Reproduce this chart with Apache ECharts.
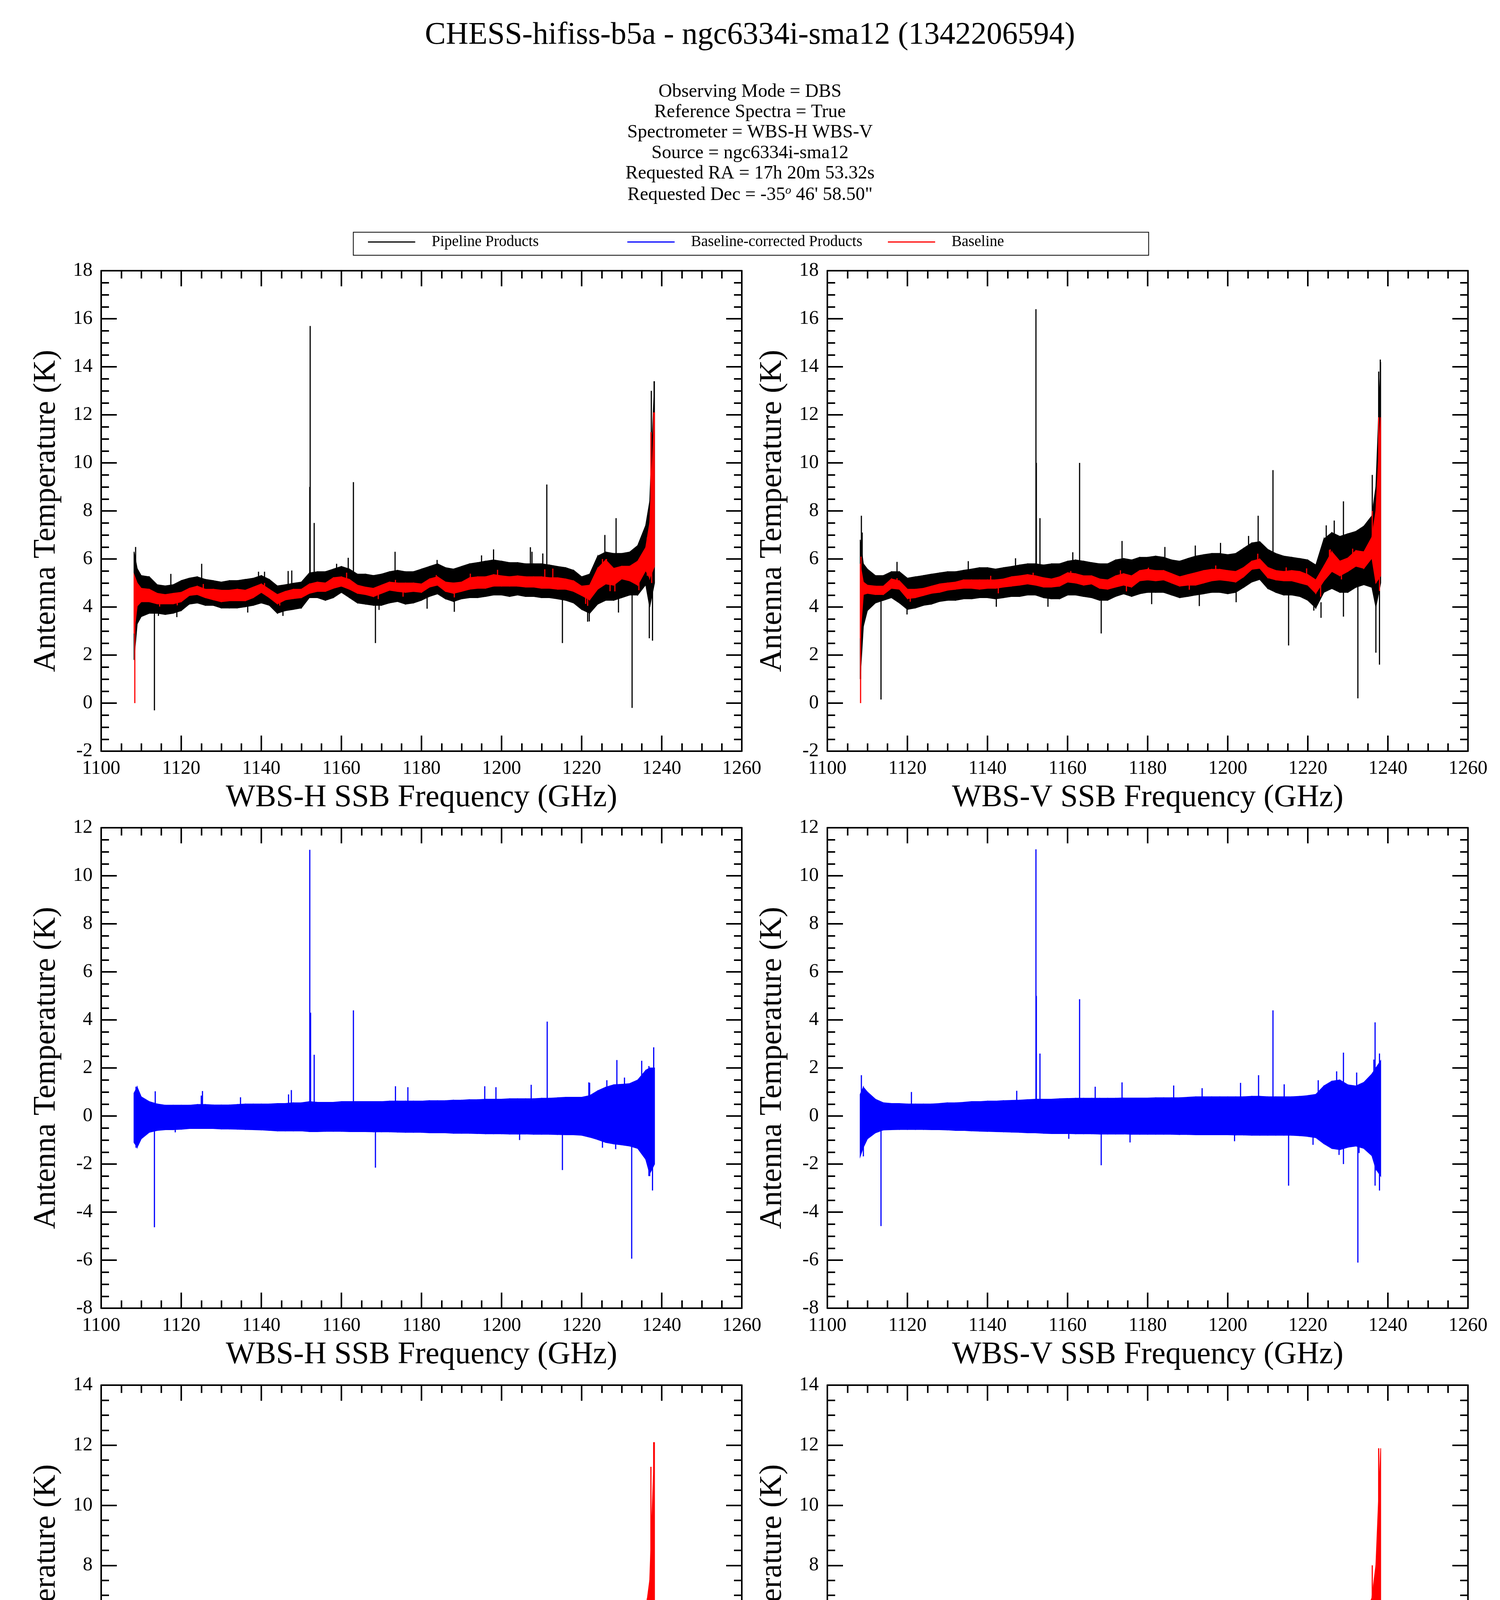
<!DOCTYPE html>
<html>
<head>
<meta charset="utf-8">
<script src="https://cdn.jsdelivr.net/npm/echarts@6/dist/echarts.min.js"></script>
<style>
html, body { margin: 0; padding: 0; background: #fff; }
#main { width: 3840px; height: 5017px; }
</style>
</head>
<body>
<div id="main"></div>
<script>
// frequency grid (GHz) used by all envelope arrays below
var freqGrid = [1108.2, 1109, 1110, 1112, 1114, 1116, 1118, 1120, 1122, 1124, 1126, 1128, 1130, 1132, 1134, 1136, 1138,
    1140, 1142, 1144, 1146, 1148, 1150, 1152, 1154, 1156, 1158, 1160, 1162, 1164, 1166, 1168, 1170, 1172, 1174, 1176,
    1178, 1180, 1182, 1184, 1186, 1188, 1190, 1192, 1194, 1196, 1198, 1200, 1202, 1204, 1206, 1208, 1210, 1212, 1214,
    1216, 1218, 1220, 1222, 1224, 1226, 1228, 1230, 1232, 1234, 1236, 1237, 1238.2];

// WBS-H : pipeline products (black), envelope low / high
var pipeLoH = [1.8, 3.3, 3.6, 3.74, 3.74, 3.69, 3.74, 3.85, 4.12, 4.17, 4.07, 4.07, 3.96, 3.96, 3.96, 4.01, 4.07,
    4.17, 4.07, 3.74, 3.85, 3.9, 3.96, 4.39, 4.39, 4.28, 4.39, 4.61, 4.39, 4.17, 4.12, 4.07, 4.07, 4.17, 4.23, 4.12,
    4.17, 4.28, 4.44, 4.55, 4.34, 4.23, 4.34, 4.39, 4.39, 4.44, 4.5, 4.5, 4.44, 4.5, 4.44, 4.44, 4.39, 4.39, 4.34,
    4.28, 4.17, 3.9, 3.74, 4.12, 4.28, 4.28, 4.39, 4.5, 4.5, 4.93, 4.0, 5.0];
var pipeHiH = [6.3, 5.6, 5.31, 5.26, 4.93, 4.88, 4.93, 5.1, 5.2, 5.26, 5.15, 5.1, 5.04, 5.1, 5.1, 5.15, 5.2,
    5.31, 5.15, 4.88, 4.93, 4.99, 5.04, 5.42, 5.47, 5.47, 5.58, 5.69, 5.58, 5.37, 5.37, 5.31, 5.37, 5.47, 5.53, 5.47,
    5.47, 5.58, 5.69, 5.8, 5.64, 5.58, 5.69, 5.8, 5.85, 5.91, 5.96, 5.91, 5.85, 5.85, 5.8, 5.8, 5.8, 5.75, 5.69,
    5.64, 5.53, 5.26, 5.37, 6.12, 6.29, 6.23, 6.23, 6.29, 6.56, 7.4, 8.4, 13.4];
// [frequency, from, to]: lines and the strongest noise spikes
var pipeSpikesH = [[1108.6, 4.5, 6.5], [1113.3, -0.3, 4.2], [1125.1, 4.8, 5.8], [1146.7, 4.6, 5.5], [1152.1, 4.5, 9.0],
    [1152.2, 4.8, 15.7], [1153.2, 4.8, 7.5], [1163.0, 4.8, 9.2], [1168.5, 2.5, 4.5], [1173.4, 5.0, 6.3],
    [1188.2, 3.8, 4.6], [1198.0, 5.2, 6.4], [1207.6, 5.2, 6.3], [1211.3, 5.0, 9.1], [1215.2, 2.5, 4.6],
    [1221.9, 3.4, 4.2], [1225.8, 5.0, 7.0], [1228.6, 5.2, 7.7], [1232.6, -0.2, 5.0], [1236.9, 2.7, 6.0],
    [1237.4, 5.0, 13.0], [1237.7, 2.6, 6.0], [1238.1, 5.0, 13.4],
    [1117.4, 4.7, 5.38], [1139.3, 5.0, 5.47], [1140.8, 5.0, 5.47], [1147.6, 4.8, 5.52], [1158.8, 5.3, 5.8],
    [1161.7, 5.4, 6.05], [1183.9, 5.5, 5.96], [1195.0, 5.6, 6.15], [1207.2, 5.5, 6.49], [1210.3, 5.5, 6.23],
    [1114.3, 3.63, 4.0], [1118.9, 3.58, 4.0], [1136.6, 3.77, 4.2], [1145.4, 3.63, 4.0], [1169.4, 3.88, 4.3],
    [1181.4, 3.93, 4.4], [1221.5, 3.39, 4.0], [1229.2, 3.77, 4.5]];

// WBS-H : baseline-corrected products (blue)
var corrLoH = [-1.1, -1.3, -0.95, -0.68, -0.6, -0.57, -0.57, -0.55, -0.52, -0.52, -0.52, -0.52, -0.54, -0.54, -0.55,
    -0.56, -0.57, -0.58, -0.6, -0.62, -0.62, -0.62, -0.62, -0.65, -0.65, -0.64, -0.64, -0.64, -0.65, -0.65, -0.65,
    -0.66, -0.66, -0.66, -0.67, -0.68, -0.68, -0.68, -0.7, -0.7, -0.7, -0.72, -0.72, -0.72, -0.73, -0.74, -0.74,
    -0.74, -0.75, -0.75, -0.75, -0.76, -0.76, -0.76, -0.77, -0.78, -0.78, -0.8, -0.88, -0.98, -1.1, -1.16, -1.2,
    -1.25, -1.35, -1.8, -2.4, -2.0];
var corrHiH = [0.95, 1.2, 0.8, 0.6, 0.5, 0.45, 0.45, 0.45, 0.45, 0.48, 0.48, 0.46, 0.46, 0.46, 0.48, 0.5, 0.5,
    0.5, 0.5, 0.52, 0.52, 0.55, 0.55, 0.6, 0.57, 0.57, 0.57, 0.6, 0.6, 0.6, 0.6, 0.6, 0.6, 0.62, 0.62, 0.62,
    0.62, 0.62, 0.64, 0.64, 0.64, 0.66, 0.66, 0.68, 0.68, 0.7, 0.7, 0.7, 0.72, 0.72, 0.72, 0.72, 0.74, 0.74, 0.76,
    0.78, 0.78, 0.78, 0.85, 1.05, 1.2, 1.3, 1.32, 1.35, 1.5, 1.9, 2.0, 2.0];
var corrSpikesH = [[1113.3, -4.63, 0], [1125.0, 0, 0.85], [1146.8, 0, 0.9], [1152.1, 0, 11.08], [1152.3, 0, 4.3],
    [1153.2, 0, 2.55], [1163.0, 0, 4.4], [1168.5, -2.15, 0], [1173.5, 0, 1.24], [1176.6, 0, 1.2],
    [1211.4, 0, 3.93], [1215.2, -2.25, 0], [1221.8, 0, 1.4], [1228.8, 0, 2.33], [1232.5, -5.94, 0],
    [1236.8, -2.5, 0], [1237.7, -3.1, 0], [1238.0, 0, 2.86],
    [1108.7, 0, 1.22], [1113.5, 0, 1.03], [1125.3, 0, 1.04], [1134.8, 0, 0.78], [1147.5, 0, 1.08],
    [1195.8, 0, 1.24], [1198.6, 0, 1.2], [1207.4, 0, 1.3], [1222.0, 0, 1.38], [1226.3, 0, 1.49],
    [1230.7, 0, 1.6], [1235.0, 0, 2.3], [1236.8, 0, 2.08],
    [1108.7, -1.32, 0], [1118.5, -0.68, 0], [1204.5, -1.0, 0], [1225.2, -1.32, 0], [1228.5, -1.38, 0],
    [1237.0, -2.5, 0]];

// WBS-H : baseline (red)
var baseLoH = [2.9, 4.04, 4.22, 4.22, 4.13, 4.13, 4.13, 4.22, 4.48, 4.52, 4.39, 4.3, 4.22, 4.26, 4.26, 4.26, 4.39,
    4.61, 4.39, 4.13, 4.3, 4.35, 4.39, 4.57, 4.65, 4.65, 4.78, 4.87, 4.74, 4.57, 4.52, 4.43, 4.57, 4.7, 4.65, 4.61,
    4.65, 4.61, 4.83, 4.91, 4.65, 4.57, 4.65, 4.74, 4.78, 4.78, 4.87, 4.87, 4.87, 4.87, 4.83, 4.83, 4.78, 4.78, 4.74,
    4.74, 4.65, 4.48, 4.3, 4.74, 4.96, 4.91, 5.17, 5.09, 4.91, 5.52, 5.2, 5.7];
var baseHiH = [5.35, 5.0, 4.78, 4.74, 4.57, 4.52, 4.57, 4.61, 4.78, 4.87, 4.74, 4.74, 4.7, 4.7, 4.74, 4.7, 4.83,
    4.96, 4.74, 4.52, 4.65, 4.74, 4.74, 4.96, 5.04, 5.0, 5.22, 5.26, 5.15, 4.91, 4.83, 4.78, 4.91, 5.04, 5.0, 5.0,
    5.0, 4.96, 5.17, 5.26, 5.04, 5.0, 5.04, 5.22, 5.26, 5.26, 5.35, 5.3, 5.26, 5.3, 5.26, 5.26, 5.26, 5.22, 5.22,
    5.17, 5.09, 4.87, 4.91, 5.61, 5.96, 5.61, 5.7, 5.7, 5.91, 6.48, 7.5, 12.1];
var baseSpikesH = [[1108.4, 0, 4.5], [1161.3, 4.9, 5.43], [1199.0, 5.0, 5.55], [1210.8, 4.9, 5.57], [1212.8, 5.0, 5.6],
    [1221.0, 4.13, 4.6], [1225.2, 5.0, 6.0], [1226.2, 5.2, 6.0], [1228.3, 4.65, 5.3], [1234.3, 4.7, 5.8],
    [1236.4, 5.3, 6.9], [1237.3, 5.5, 11.28], [1237.5, 5.0, 6.0], [1238.0, 6.0, 12.1],
    [1125.5, 4.7, 4.96], [1140.8, 4.8, 5.0], [1173.5, 4.9, 5.13], [1183.7, 5.1, 5.33], [1192.2, 5.1, 5.39],
    [1114.6, 4.02, 4.3], [1119.0, 4.07, 4.3], [1144.6, 4.06, 4.3], [1169.2, 4.33, 4.6], [1175.4, 4.43, 4.7],
    [1188.2, 4.4, 4.7], [1221.5, 4.05, 4.5], [1227.1, 4.66, 5.2]];

// WBS-V : pipeline products (black)
var pipeLoV = [1.0, 3.2, 3.85, 4.17, 4.28, 4.39, 4.17, 3.9, 3.96, 4.07, 4.12, 4.23, 4.28, 4.28, 4.34, 4.34, 4.39,
    4.39, 4.34, 4.39, 4.44, 4.44, 4.5, 4.5, 4.39, 4.34, 4.34, 4.5, 4.5, 4.44, 4.39, 4.28, 4.28, 4.44, 4.55, 4.44,
    4.55, 4.61, 4.61, 4.61, 4.5, 4.39, 4.44, 4.5, 4.55, 4.61, 4.61, 4.55, 4.61, 4.82, 5.04, 5.15, 4.77, 4.61, 4.5,
    4.5, 4.44, 4.28, 3.96, 4.61, 4.77, 4.61, 4.61, 4.82, 4.93, 4.82, 4.0, 5.0];
var pipeHiV = [6.8, 5.8, 5.58, 5.31, 5.31, 5.47, 5.47, 5.2, 5.26, 5.31, 5.37, 5.42, 5.47, 5.47, 5.53, 5.58, 5.64,
    5.64, 5.58, 5.64, 5.69, 5.75, 5.8, 5.8, 5.75, 5.8, 5.8, 5.91, 5.96, 5.91, 5.85, 5.8, 5.8, 5.96, 6.02, 5.96,
    6.07, 6.07, 6.12, 6.07, 5.96, 5.91, 6.02, 6.12, 6.18, 6.23, 6.23, 6.18, 6.23, 6.45, 6.67, 6.72, 6.4, 6.23, 6.12,
    6.07, 6.02, 5.96, 5.75, 6.83, 7.1, 6.94, 7.05, 7.15, 7.37, 7.8, 9.0, 14.2];
var pipeSpikesV = [[1108.3, 1.0, 5.0], [1108.5, 5.0, 7.8], [1113.4, 0.15, 4.5], [1152.1, 5.0, 16.4], [1152.2, 5.0, 10.0],
    [1153.1, 5.0, 7.7], [1163.0, 5.2, 10.0], [1168.4, 2.9, 4.6], [1173.6, 5.5, 6.75], [1207.6, 5.5, 7.8],
    [1211.3, 5.5, 9.7], [1215.2, 2.4, 4.8], [1228.9, 5.0, 8.4], [1232.5, 0.2, 5.0], [1236.1, 5.0, 9.5],
    [1237.0, 2.1, 6.0], [1237.7, 5.0, 13.8], [1237.9, 1.6, 6.0], [1238.1, 5.0, 14.3],
    [1108.7, 5.5, 7.1], [1117.4, 5.3, 5.88], [1135.2, 5.3, 5.91], [1147.0, 5.5, 6.03], [1161.3, 5.6, 6.28],
    [1184.3, 5.8, 6.5], [1191.9, 5.8, 6.56], [1198.2, 5.9, 6.67], [1205.2, 6.2, 6.96], [1224.6, 6.5, 7.4],
    [1226.6, 6.8, 7.6],
    [1119.9, 3.69, 4.3], [1142.2, 4.01, 4.5], [1155.1, 4.01, 4.5], [1181.0, 4.12, 4.7], [1192.9, 4.04, 4.6],
    [1202.1, 4.2, 4.7], [1221.5, 3.85, 4.4], [1223.3, 3.55, 4.2], [1228.9, 3.6, 4.8]];

// WBS-V : baseline-corrected products (blue)
var corrLoV = [-1.68, -1.3, -0.95, -0.7, -0.58, -0.57, -0.56, -0.56, -0.56, -0.56, -0.57, -0.57, -0.58, -0.6, -0.6,
    -0.62, -0.63, -0.64, -0.65, -0.66, -0.67, -0.68, -0.7, -0.7, -0.72, -0.73, -0.73, -0.73, -0.74, -0.74, -0.74,
    -0.75, -0.75, -0.75, -0.75, -0.76, -0.76, -0.76, -0.76, -0.76, -0.76, -0.77, -0.77, -0.78, -0.78, -0.78, -0.78,
    -0.78, -0.79, -0.79, -0.8, -0.8, -0.8, -0.8, -0.8, -0.8, -0.82, -0.85, -0.9, -1.15, -1.35, -1.4, -1.3,
    -1.25, -1.35, -1.65, -2.2, -2.5];
var corrHiV = [0.9, 1.2, 1.0, 0.7, 0.55, 0.52, 0.52, 0.5, 0.5, 0.5, 0.5, 0.52, 0.55, 0.55, 0.57, 0.6, 0.6,
    0.62, 0.62, 0.64, 0.65, 0.66, 0.68, 0.7, 0.7, 0.7, 0.72, 0.73, 0.74, 0.74, 0.74, 0.74, 0.74, 0.74, 0.75, 0.75,
    0.75, 0.75, 0.76, 0.76, 0.76, 0.76, 0.78, 0.8, 0.8, 0.8, 0.8, 0.8, 0.8, 0.8, 0.82, 0.82, 0.8, 0.8, 0.8,
    0.8, 0.82, 0.85, 0.9, 1.25, 1.45, 1.5, 1.3, 1.25, 1.4, 1.75, 2.0, 2.3];
var corrSpikesV = [[1108.5, 0, 1.7], [1113.4, -4.58, 0], [1152.1, 0, 11.1], [1152.2, 0, 5.0], [1153.1, 0, 2.6],
    [1163.0, 0, 4.86], [1168.4, -2.05, 0], [1173.6, 0, 1.4], [1207.7, 0, 1.7], [1211.3, 0, 4.4],
    [1215.2, -2.9, 0], [1228.9, -2.0, 2.64], [1232.5, -6.1, 0], [1236.8, -2.9, 3.9], [1237.9, -3.1, 2.6],
    [1121.0, 0, 1.0], [1147.3, 0, 1.05], [1166.9, 0, 1.22], [1186.5, 0, 1.27], [1193.6, 0, 1.16],
    [1203.2, 0, 1.38], [1214.1, 0, 1.32], [1222.6, 0, 1.49], [1227.2, 0, 1.86], [1232.2, 0, 1.81],
    [1236.5, 0, 2.35],
    [1109.0, -1.68, 0], [1160.3, -0.95, 0], [1175.6, -1.1, 0], [1201.7, -1.05, 0], [1221.3, -1.2, 0],
    [1227.8, -1.62, 0], [1232.8, -1.54, 0]];

// WBS-V : baseline (red)
var baseLoV = [2.7, 4.52, 4.57, 4.52, 4.52, 4.78, 4.74, 4.35, 4.39, 4.48, 4.57, 4.61, 4.7, 4.74, 4.78, 4.78, 4.74,
    4.78, 4.78, 4.83, 4.87, 4.91, 4.96, 4.91, 4.83, 4.83, 4.87, 5.04, 5.0, 4.91, 4.96, 4.78, 4.74, 4.83, 4.91, 4.83,
    5.09, 5.13, 5.09, 5.13, 5.0, 4.87, 4.91, 4.91, 5.0, 5.09, 5.13, 5.09, 5.04, 5.26, 5.57, 5.61, 5.22, 5.13, 5.09,
    5.09, 5.0, 4.91, 4.57, 5.09, 5.48, 5.3, 5.48, 5.7, 5.61, 6.04, 5.0, 5.3];
var baseHiV = [5.8, 5.04, 4.91, 4.87, 4.87, 5.17, 5.09, 4.74, 4.74, 4.78, 4.87, 4.96, 5.0, 5.04, 5.13, 5.13, 5.13,
    5.13, 5.13, 5.17, 5.26, 5.3, 5.35, 5.3, 5.22, 5.17, 5.26, 5.43, 5.39, 5.3, 5.3, 5.17, 5.13, 5.3, 5.39, 5.3,
    5.52, 5.57, 5.52, 5.52, 5.39, 5.26, 5.35, 5.43, 5.52, 5.57, 5.57, 5.52, 5.48, 5.65, 5.91, 6.0, 5.65, 5.52, 5.48,
    5.52, 5.48, 5.35, 5.13, 5.7, 6.3, 5.91, 6.04, 6.35, 6.3, 6.91, 8.0, 11.9];
var baseSpikesV = [[1108.3, 0, 5.8], [1108.4, 5.0, 6.1], [1207.5, 5.8, 6.22], [1223.2, 4.43, 5.0], [1225.6, 5.5, 6.4],
    [1236.1, 6.2, 8.0], [1237.0, 5.0, 6.5], [1237.7, 6.0, 11.9], [1237.9, 4.67, 6.0],
    [1117.4, 5.0, 5.2], [1140.8, 5.1, 5.3], [1151.4, 5.2, 5.43], [1160.8, 5.3, 5.5], [1173.2, 5.2, 5.53],
    [1180.2, 5.4, 5.64], [1197.0, 5.4, 5.73], [1214.6, 5.3, 5.65], [1219.7, 5.2, 5.61], [1225.4, 5.8, 6.38],
    [1231.2, 5.9, 6.43],
    [1120.7, 4.22, 4.5], [1142.7, 4.57, 4.9], [1174.7, 4.65, 5.0], [1190.4, 4.72, 5.0], [1228.4, 5.15, 5.6]];

// axis ranges per row: [min, max]
var rowRanges = [[-2, 18], [-8, 12], [-2, 14]];
var xTitles = ['WBS-H SSB Frequency (GHz)', 'WBS-V SSB Frequency (GHz)'];
var yTitle = 'Antenna Temperature (K)';
var legendNames = ['Pipeline Products', 'Baseline-corrected Products', 'Baseline'];
var infoLines = [
    'Observing Mode = DBS',
    'Reference Spectra = True',
    'Spectrometer = WBS-H WBS-V',
    'Source = ngc6334i-sma12',
    'Requested RA = 17h 20m 53.32s',
    '{n|Requested Dec = -35}{sup|o}{n| 46\' 58.50"}'
];

var FONT = 'Liberation Serif';
var BLACK = '#000000', BLUE = '#0000ff', RED = '#ff0000';

var chartDom = document.getElementById('main');
var myChart = echarts.init(chartDom);
var option;

function renderBand(params, api) {
    var color = api.visual('color');
    var a = api.coord([api.value(0), api.value(1)]);
    var b = api.coord([api.value(0), api.value(2)]);
    var c = api.coord([api.value(3), api.value(5)]);
    var d = api.coord([api.value(3), api.value(4)]);
    return {
        type: 'polygon',
        shape: {points: [a, b, c, d]},
        style: {fill: color, stroke: color, lineWidth: 2}
    };
}

function renderSpike(params, api) {
    var p1 = api.coord([api.value(0), api.value(1)]);
    var p2 = api.coord([api.value(0), api.value(2)]);
    return {
        type: 'line',
        shape: {x1: p1[0], y1: p1[1], x2: p2[0], y2: p2[1]},
        style: {stroke: api.visual('color'), lineWidth: 3}
    };
}

function bandSeries(name, color, g, lo, hi) {
    var data = [];
    for (var i = 0; i < freqGrid.length - 1; i++) {
        data.push([freqGrid[i], lo[i], hi[i], freqGrid[i + 1], lo[i + 1], hi[i + 1]]);
    }
    return {
        name: name, type: 'custom', xAxisIndex: g * 2, yAxisIndex: g * 2,
        renderItem: renderBand, itemStyle: {color: color},
        encode: {x: [0, 3], y: [1, 2, 4, 5]},
        silent: true, data: data
    };
}

function spikeSeries(name, color, g, spikes) {
    return {
        name: name, type: 'custom', xAxisIndex: g * 2, yAxisIndex: g * 2,
        renderItem: renderSpike, itemStyle: {color: color},
        encode: {x: 0, y: [1, 2]},
        silent: true, data: spikes
    };
}

// panel boxes (left, top), all 1640 x 1230
var panelPos = [[259, 693], [2118, 693], [259, 2119], [2118, 2119], [259, 3546], [2118, 3546]];

var grids = [], xAxes = [], yAxes = [];
var lineStyle = {color: BLACK, width: 4};
panelPos.forEach(function (p, g) {
    var row = Math.floor(g / 2), col = g % 2;
    grids.push({left: p[0], top: p[1], width: 1640, height: 1230, containLabel: false});
    [false, true].forEach(function (mirror) {
        xAxes.push({
            type: 'value', gridIndex: g, min: 1100, max: 1260, interval: 20,
            position: mirror ? 'top' : 'bottom',
            axisLine: {show: true, onZero: false, lineStyle: lineStyle},
            axisTick: {show: true, inside: true, length: 40, lineStyle: lineStyle},
            minorTick: {show: true, splitNumber: 4, length: 20, lineStyle: lineStyle},
            splitLine: {show: false},
            axisLabel: {
                show: !mirror, margin: 20, color: BLACK, fontFamily: FONT, fontSize: 50,
                formatter: function (v) { return String(v); }
            },
            name: mirror ? '' : xTitles[col],
            nameLocation: 'middle', nameGap: 80,
            nameTextStyle: {color: BLACK, fontFamily: FONT, fontSize: 80}
        });
        yAxes.push({
            type: 'value', gridIndex: g, min: rowRanges[row][0], max: rowRanges[row][1], interval: 2,
            position: mirror ? 'right' : 'left',
            axisLine: {show: true, onZero: false, lineStyle: lineStyle},
            axisTick: {show: true, inside: true, length: 40, lineStyle: lineStyle},
            minorTick: {show: true, splitNumber: 4, length: 20, lineStyle: lineStyle},
            splitLine: {show: false},
            axisLabel: {
                show: !mirror, margin: 22, color: BLACK, fontFamily: FONT, fontSize: 50,
                formatter: function (v) { return String(v); }
            },
            name: mirror ? '' : yTitle,
            nameLocation: 'middle', nameGap: 100,
            nameTextStyle: {color: BLACK, fontFamily: FONT, fontSize: 80}
        });
    });
});

var series = [];
// row 1: pipeline with baseline overlay
series.push(bandSeries(legendNames[0], BLACK, 0, pipeLoH, pipeHiH));
series.push(spikeSeries(legendNames[0], BLACK, 0, pipeSpikesH));
series.push(bandSeries(legendNames[2], RED, 0, baseLoH, baseHiH));
series.push(spikeSeries(legendNames[2], RED, 0, baseSpikesH));
series.push(bandSeries(legendNames[0], BLACK, 1, pipeLoV, pipeHiV));
series.push(spikeSeries(legendNames[0], BLACK, 1, pipeSpikesV));
series.push(bandSeries(legendNames[2], RED, 1, baseLoV, baseHiV));
series.push(spikeSeries(legendNames[2], RED, 1, baseSpikesV));
// row 2: baseline-corrected
series.push(bandSeries(legendNames[1], BLUE, 2, corrLoH, corrHiH));
series.push(spikeSeries(legendNames[1], BLUE, 2, corrSpikesH));
series.push(bandSeries(legendNames[1], BLUE, 3, corrLoV, corrHiV));
series.push(spikeSeries(legendNames[1], BLUE, 3, corrSpikesV));
// row 3: baseline
series.push(bandSeries(legendNames[2], RED, 4, baseLoH, baseHiH));
series.push(spikeSeries(legendNames[2], RED, 4, baseSpikesH));
series.push(bandSeries(legendNames[2], RED, 5, baseLoV, baseHiV));
series.push(spikeSeries(legendNames[2], RED, 5, baseSpikesV));

var legendLeft = [942, 1606, 2273];
var legends = legendNames.map(function (n, i) {
    return {
        data: [n], left: legendLeft[i], top: 600, padding: 0,
        icon: 'rect', itemWidth: 121, itemHeight: 3, selectedMode: false,
        itemStyle: {color: [BLACK, BLUE, RED][i]},
        textStyle: {color: BLACK, fontFamily: FONT, fontSize: 39, padding: [0, 0, 0, 37]}
    };
});

var titles = [{
    text: 'CHESS-hifiss-b5a - ngc6334i-sma12 (1342206594)',
    left: 'center', top: 46,
    textStyle: {color: BLACK, fontFamily: FONT, fontSize: 80, fontWeight: 'normal'}
}];
infoLines.forEach(function (t, i) {
    titles.push({
        text: t, left: 'center', top: 211 + i * 52.4, padding: 0,
        textStyle: {
            color: BLACK, fontFamily: FONT, fontSize: 48, fontWeight: 'normal',
            rich: {
                n: {fontFamily: FONT, fontSize: 48, color: BLACK},
                sup: {fontFamily: FONT, fontSize: 30, fontStyle: 'italic', color: BLACK, padding: [0, 0, 22, 0]}
            }
        }
    });
});

option = {
    backgroundColor: '#ffffff',
    animation: false,
    title: titles,
    legend: legends,
    graphic: {
        elements: [{
            type: 'rect', left: 902, top: 592, z: -1,
            shape: {width: 2036, height: 59},
            style: {fill: 'none', stroke: BLACK, lineWidth: 2}
        }]
    },
    grid: grids,
    xAxis: xAxes,
    yAxis: yAxes,
    series: series
};

option && myChart.setOption(option);
</script>
</body>
</html>
